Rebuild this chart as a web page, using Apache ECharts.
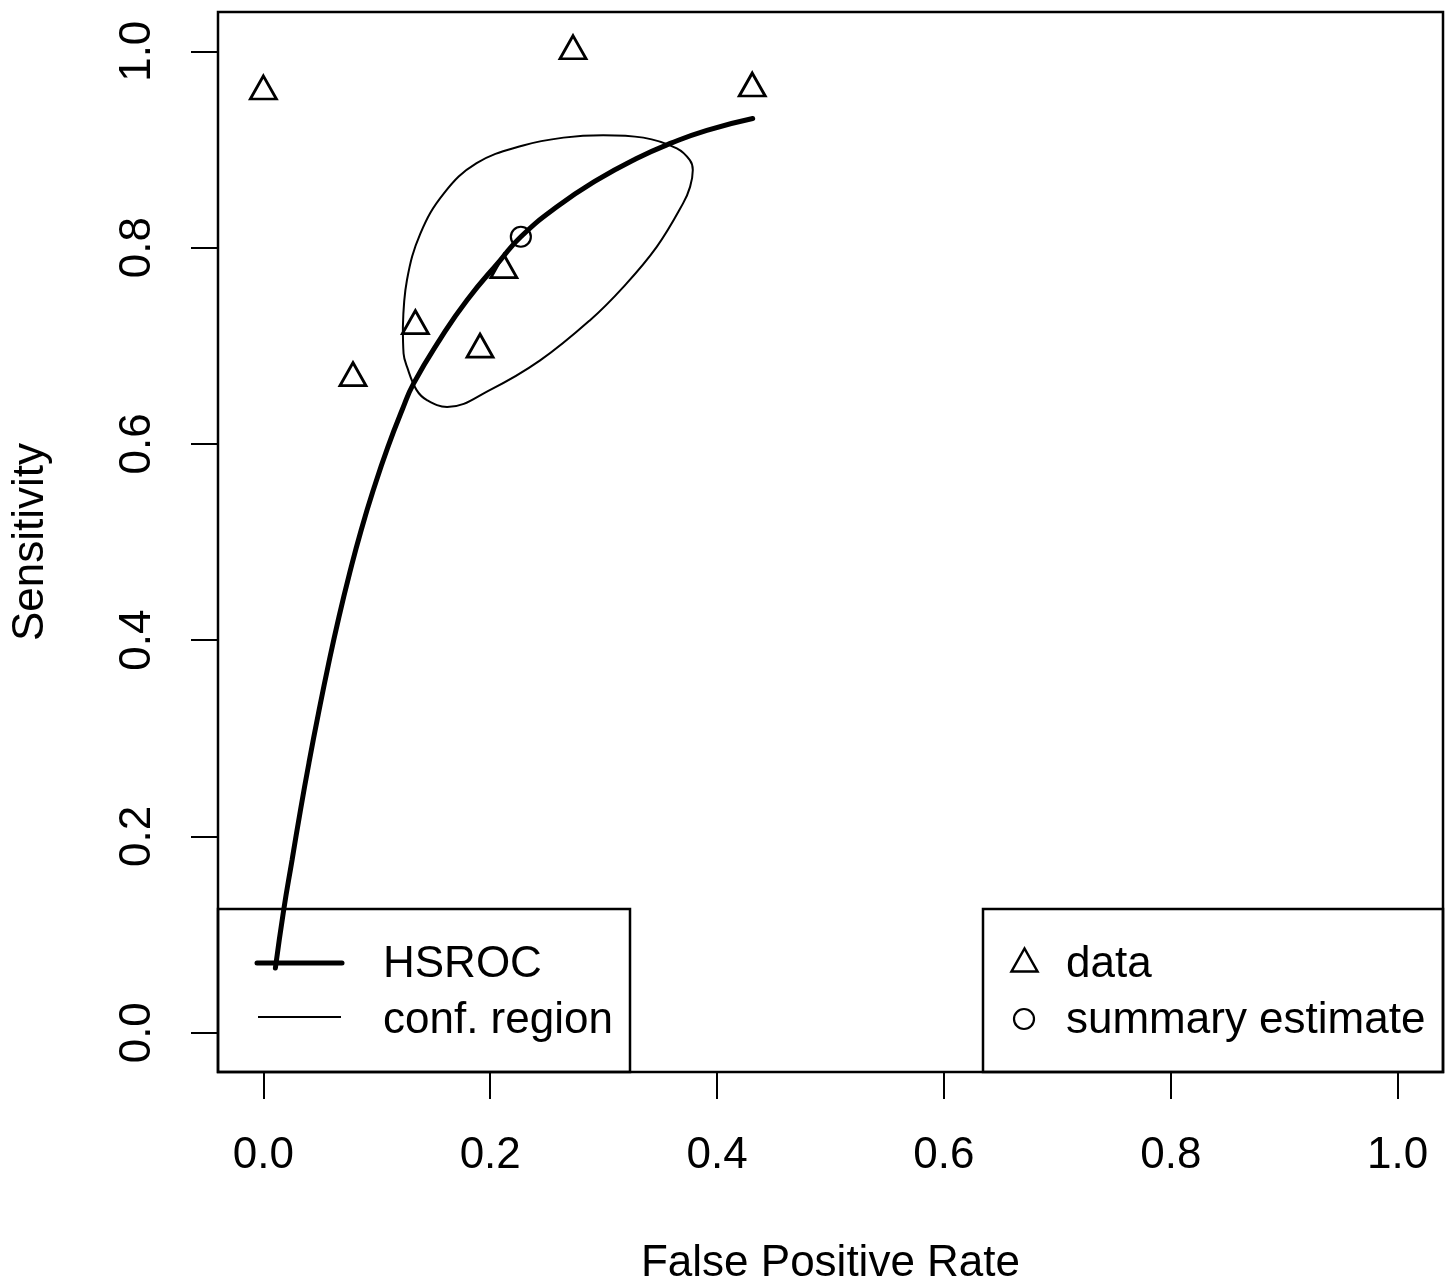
<!DOCTYPE html>
<html><head><meta charset="utf-8">
<script src="https://cdn.jsdelivr.net/npm/echarts@6/dist/echarts.min.js"></script>
<style>html,body{margin:0;padding:0;background:#fff}#c{width:1452px;height:1286px}</style>
</head><body><div id="c"></div>
<script>
// ---- data ----
const tickValues = [0, 0.2, 0.4, 0.6, 0.8, 1.0];
const tickLabels = ['0.0', '0.2', '0.4', '0.6', '0.8', '1.0'];

const dataFPR  = [0.000, 0.273, 0.431, 0.079, 0.134, 0.191, 0.212];
const dataSens = [0.959, 1.000, 0.962, 0.667, 0.720, 0.696, 0.777];

const summaryFPR  = [0.227];
const summarySens = [0.811];

const hsrocFPR  = [0.0106, 0.0179, 0.0253, 0.0326, 0.0402, 0.0485, 0.0575, 0.0665, 0.0760, 0.0862, 0.0975, 0.1095, 0.1225, 0.1325, 0.1560, 0.1795, 0.2088, 0.2270, 0.2588, 0.2940, 0.3290, 0.3600, 0.3910, 0.4314];
const hsrocSens = [0.0660, 0.1250, 0.1760, 0.2260, 0.2750, 0.3250, 0.3760, 0.4230, 0.4680, 0.5120, 0.5550, 0.5960, 0.6350, 0.6616, 0.7070, 0.7464, 0.7870, 0.8110, 0.8415, 0.8686, 0.8907, 0.9066, 0.9195, 0.9315];

const regionFPR  = [0.1230, 0.1266, 0.1383, 0.1590, 0.1880, 0.2290, 0.2646, 0.2996, 0.3350, 0.3645, 0.3760, 0.3786, 0.3762, 0.3700, 0.3468, 0.3175, 0.2880, 0.2440, 0.2000, 0.1620, 0.1442, 0.1350, 0.1266, 0.1236, 0.1230];
const regionSens = [0.7190, 0.7670, 0.8140, 0.8550, 0.8860, 0.9040, 0.9120, 0.9145, 0.9120, 0.9010, 0.8890, 0.8790, 0.8618, 0.8450, 0.8007, 0.7600, 0.7260, 0.6850, 0.6550, 0.6375, 0.6446, 0.6550, 0.6786, 0.6920, 0.7190];

const legendLeftLabels  = ['HSROC', 'conf. region'];
const legendRightLabels = ['data', 'summary estimate'];
const xTitle = 'False Positive Rate';
const yTitle = 'Sensitivity';

// ---- chart ----
const FONT = '"Liberation Sans", Arial, Helvetica, sans-serif';
const zip = (a, b) => a.map((v, i) => [v, b[i]]);
const fmt = v => { const i = tickValues.findIndex(t => Math.abs(t - v) < 1e-9); return i >= 0 ? tickLabels[i] : ''; };

const chart = echarts.init(document.getElementById('c'), null, { renderer: 'canvas' });

const axisCommon = {
  type: 'value', min: -0.04, max: 1.04,
  splitLine: { show: false },
  axisLine: { show: false, onZero: false },
  axisTick: { show: true, inside: false, length: 27, customValues: tickValues, lineStyle: { color: '#000', width: 2 } },
  nameLocation: 'middle',
  nameTextStyle: { color: '#000', fontSize: 44, fontFamily: FONT }
};

chart.setOption({
  animation: false,
  backgroundColor: '#fff',
  grid: { left: 218, top: 12, width: 1225, height: 1060, outerBoundsMode: 'none', containLabel: false,
          show: true, borderColor: '#000', borderWidth: 2.5, backgroundColor: 'transparent' },
  xAxis: Object.assign({}, axisCommon, {
    name: xTitle, nameGap: 170,
    axisLabel: { customValues: tickValues, formatter: fmt, color: '#000', fontSize: 44, fontFamily: FONT, margin: 62 }
  }),
  yAxis: Object.assign({}, axisCommon, {
    name: yTitle, nameGap: 165,
    axisLabel: { customValues: tickValues, formatter: fmt, color: '#000', fontSize: 44, fontFamily: FONT, margin: 58, rotate: 90 }
  }),
  series: [
    {
      name: legendLeftLabels[1], type: 'line', data: zip(regionFPR, regionSens),
      smooth: 0.4, showSymbol: false, clip: false,
      lineStyle: { color: '#000', width: 2 }, z: 2
    },
    {
      name: legendLeftLabels[0], type: 'line', data: zip(hsrocFPR, hsrocSens),
      smooth: 0.5, showSymbol: false, clip: false,
      lineStyle: { color: '#000', width: 5, cap: 'round' }, z: 3
    },
    {
      name: legendRightLabels[0], type: 'scatter', data: zip(dataFPR, dataSens),
      symbol: 'triangle', symbolSize: [26, 23], symbolOffset: [0, -4],
      itemStyle: { color: 'rgba(0,0,0,0)', borderColor: '#000', borderWidth: 2.8, opacity: 1 }, z: 4
    },
    {
      name: legendRightLabels[1], type: 'scatter', data: zip(summaryFPR, summarySens),
      symbol: 'circle', symbolSize: 20,
      itemStyle: { color: 'rgba(0,0,0,0)', borderColor: '#000', borderWidth: 2.2, opacity: 1 }, z: 4
    }
  ],
  graphic: [
    { type: 'rect', shape: { x: 218, y: 909, width: 412, height: 163 }, style: { fill: 'none', stroke: '#000', lineWidth: 2.5 }, z: 10 },
    { type: 'line', shape: { x1: 257, y1: 963, x2: 342, y2: 963 }, style: { stroke: '#000', lineWidth: 5, lineCap: 'round' }, z: 10 },
    { type: 'line', shape: { x1: 258, y1: 1017, x2: 341, y2: 1017 }, style: { stroke: '#000', lineWidth: 2 }, z: 10 },
    { type: 'text', x: 383, y: 965, style: { text: legendLeftLabels[0], fill: '#000', font: '44px ' + FONT, verticalAlign: 'middle', align: 'left' }, z: 10 },
    { type: 'text', x: 383, y: 1021, style: { text: legendLeftLabels[1], fill: '#000', font: '44px ' + FONT, verticalAlign: 'middle', align: 'left' }, z: 10 },

    { type: 'rect', shape: { x: 983, y: 909, width: 460, height: 163 }, style: { fill: 'none', stroke: '#000', lineWidth: 2.5 }, z: 10 },
    { type: 'polygon', shape: { points: [[1024.5, 948.5], [1011.5, 971.5], [1037.5, 971.5]] }, style: { fill: 'none', stroke: '#000', lineWidth: 2.5 }, z: 10 },
    { type: 'circle', shape: { cx: 1024, cy: 1019, r: 10 }, style: { fill: 'none', stroke: '#000', lineWidth: 2.2 }, z: 10 },
    { type: 'text', x: 1066, y: 965, style: { text: legendRightLabels[0], fill: '#000', font: '44px ' + FONT, verticalAlign: 'middle', align: 'left' }, z: 10 },
    { type: 'text', x: 1066, y: 1021, style: { text: legendRightLabels[1], fill: '#000', font: '44px ' + FONT, verticalAlign: 'middle', align: 'left' }, z: 10 }
  ]
});
</script>
</body></html>
